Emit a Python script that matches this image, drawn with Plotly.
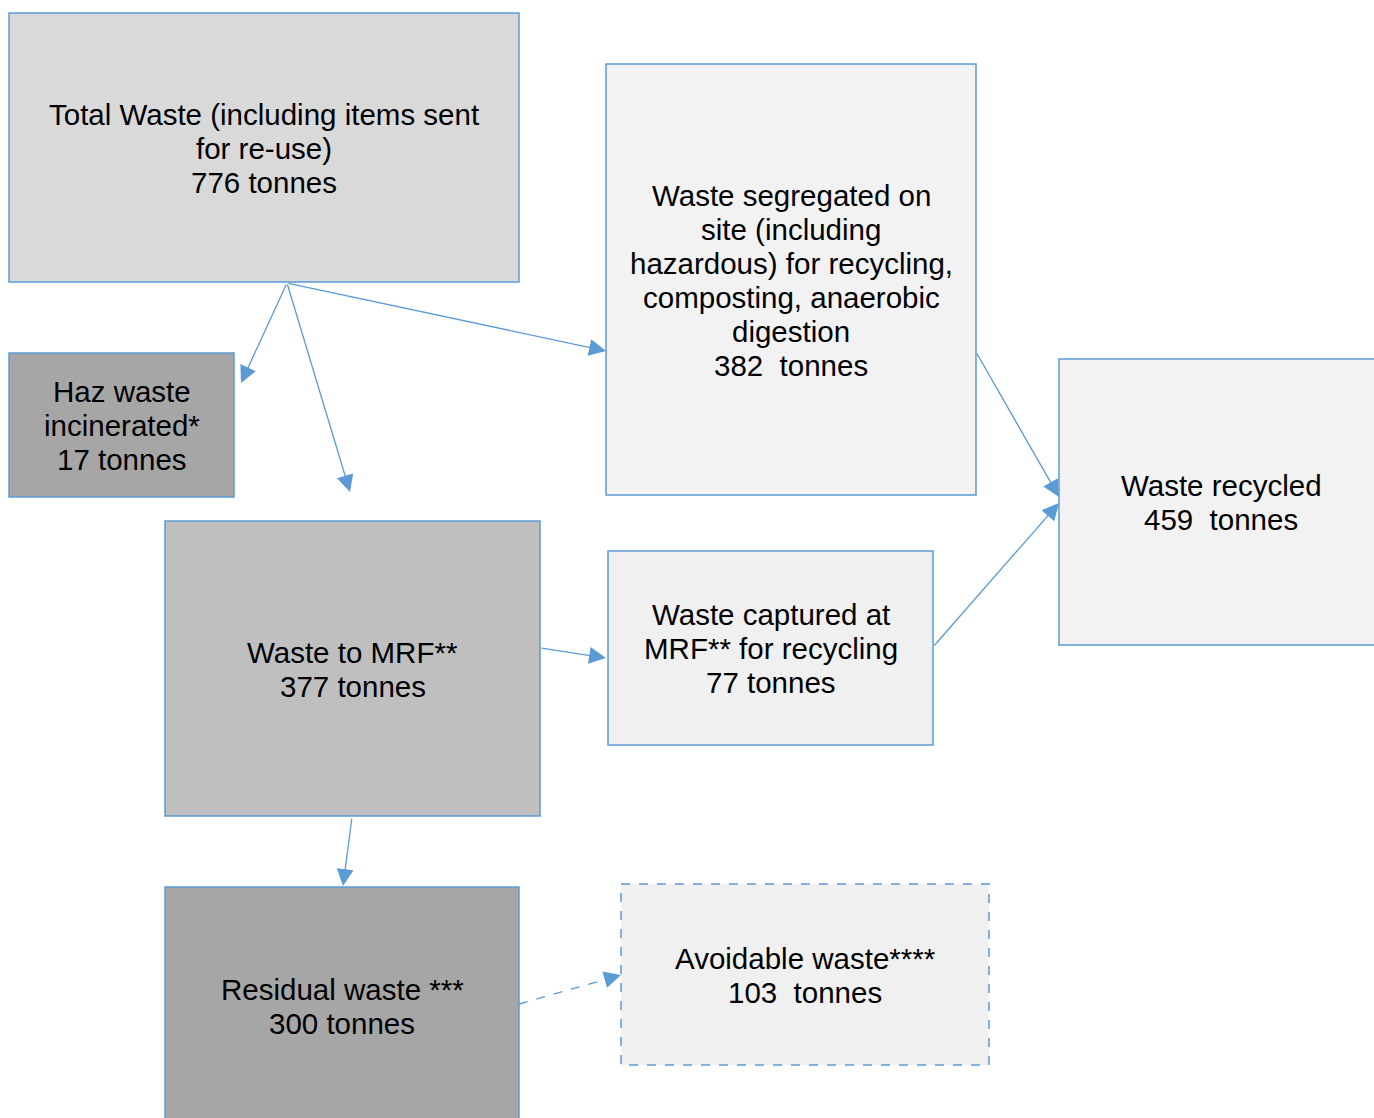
import plotly.graph_objects as go

# ---- data ----
node_lines = [
    ["Total Waste (including items sent", "for re-use)"],
    ["Haz waste", "incinerated*"],
    ["Waste segregated on", "site (including", "hazardous) for recycling,", "composting, anaerobic", "digestion"],
    ["Waste recycled"],
    ["Waste to MRF**"],
    ["Waste captured at", "MRF** for recycling"],
    ["Residual waste ***"],
    ["Avoidable waste****"],
]
node_tonnes = [776, 17, 382, 459, 377, 77, 300, 103]
unit_sep = [" ", " ", "\u00a0 ", "\u00a0 ", " ", " ", " ", "\u00a0 "]

# links: (source index, target index, dashed)
link_source = [0, 0, 0, 2, 5, 4, 4, 6]
link_target = [1, 4, 2, 3, 3, 5, 6, 7]
link_dashed = [False, False, False, False, False, False, False, True]

# ---- layout geometry (pixels) ----
W, H = 1374, 1118
boxes = [
    (9, 13, 519, 282),
    (9, 353, 234, 497),
    (606, 64, 976, 495),
    (1059, 359, 1390, 645),
    (165, 521, 540, 816),
    (608, 551, 933, 745),
    (165, 887, 519, 1125),
    (621, 884, 989, 1065),
]
fills = ["#d9d9d9", "#a6a6a6", "#f2f2f2", "#f2f2f2", "#bfbfbf", "#f0f0f0", "#a6a6a6", "#f0f0f0"]
box_dash = ["solid"] * 7 + ["dash"]
arrow_geom = [
    (287, 283, 241, 383),
    (287, 283, 350, 492),
    (287, 283, 606, 351),
    (976, 352, 1059, 497),
    (933, 647, 1059, 503),
    (540, 648, 606, 658),
    (352, 817, 343, 886),
    (519, 1004, 621, 975),
]
EDGE = "#5b9bd5"
LINE_H = 34
FONT = dict(family="Liberation Sans, Arial, sans-serif", size=29.5, color="#000000")

fig = go.Figure()
shapes = []
annotations = []
for i, (x0, y0, x1, y1) in enumerate(boxes):
    shapes.append(dict(type="rect", xref="x", yref="y", x0=x0, y0=y0, x1=x1, y1=y1,
                       fillcolor=fills[i], line=dict(color=EDGE, width=1.5, dash=box_dash[i]),
                       layer="below"))
    lines = node_lines[i] + [f"{node_tonnes[i]}{unit_sep[i]}tonnes"]
    cx, cy = (x0 + x1) / 2, (y0 + y1) / 2
    if i == 3:
        cx = 1221
    n = len(lines)
    for j, t in enumerate(lines):
        annotations.append(dict(x=cx, y=cy + (j - (n - 1) / 2) * LINE_H + 0.5, xref="x", yref="y",
                                text=t, showarrow=False, xanchor="center", yanchor="middle",
                                font=FONT))

for k in range(len(link_source)):
    tx, ty, hx, hy = arrow_geom[k]
    if link_dashed[k]:
        shapes.append(dict(type="line", xref="x", yref="y", x0=tx, y0=ty, x1=hx, y1=hy,
                           line=dict(color=EDGE, width=1.3, dash="dash")))
        fx = hx - (hx - tx) * 0.12
        fy = hy - (hy - ty) * 0.12
        annotations.append(dict(x=hx, y=hy, ax=fx, ay=fy, xref="x", yref="y", axref="x", ayref="y",
                                text="", showarrow=True, arrowhead=2, arrowsize=2.6,
                                arrowwidth=1.3, arrowcolor=EDGE, standoff=0, startstandoff=0))
    else:
        annotations.append(dict(x=hx, y=hy, ax=tx, ay=ty, xref="x", yref="y", axref="x", ayref="y",
                                text="", showarrow=True, arrowhead=2, arrowsize=2.6,
                                arrowwidth=1.3, arrowcolor=EDGE, standoff=0, startstandoff=0))

fig.update_layout(
    width=W, height=H,
    margin=dict(l=0, r=0, t=0, b=0),
    paper_bgcolor="white", plot_bgcolor="white",
    xaxis=dict(range=[0, W], visible=False, fixedrange=True),
    yaxis=dict(range=[H, 0], visible=False, fixedrange=True),
    shapes=shapes, annotations=annotations, showlegend=False,
)
fig.write_html("out.html", config={"displayModeBar": False},
               post_script="document.body.style.margin='0';")
